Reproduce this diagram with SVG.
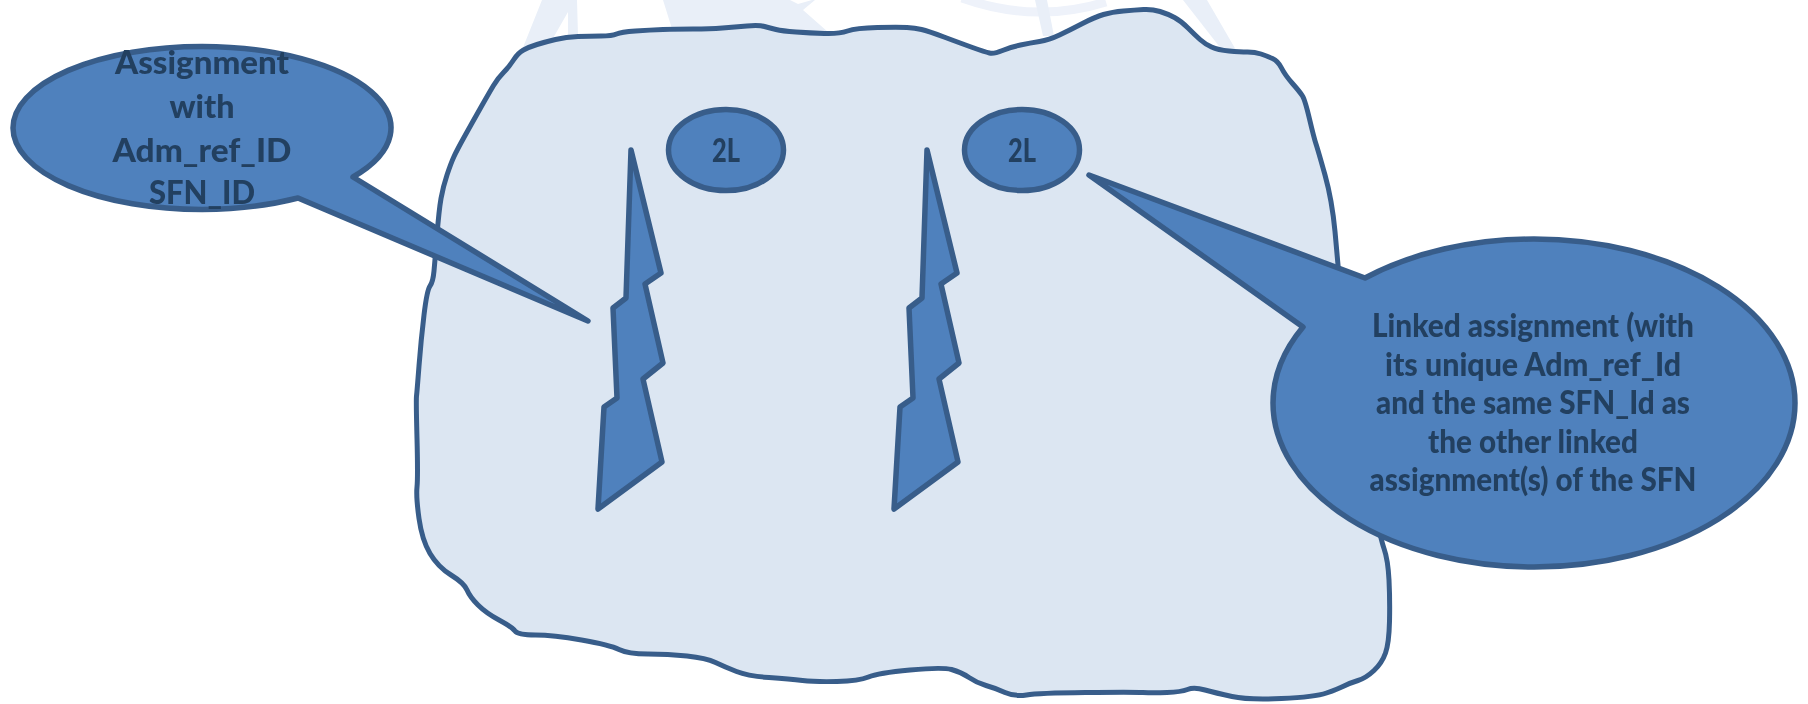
<svg xmlns="http://www.w3.org/2000/svg" width="1808" height="704" viewBox="0 0 1808 704">
<style>
.wm{fill:#e9eff8;stroke:none}
.wl{fill:none;stroke:#eef2fa;stroke-width:9}
.shape{fill:#4f81bd;stroke:#385d8a;stroke-width:5.5;stroke-linejoin:round;stroke-linecap:round}
.blob{fill:#dce6f2;stroke:#385d8a;stroke-width:5;stroke-linejoin:round}
text{font-family:"Lato","Open Sans","Liberation Sans",sans-serif;font-weight:900;font-size:32px;fill:#244061;text-anchor:middle}
</style>
<defs><filter id="soft" x="-2%" y="-2%" width="104%" height="104%"><feGaussianBlur stdDeviation="0.5"/></filter></defs>
<rect width="1808" height="704" fill="#ffffff"/>
<g filter="url(#soft)">
<g id="watermark">
<path class="wm" d="M542,0L577,0L578,36L568,37L568,12L552,40L522,50Z"/>
<path class="wm" d="M663,0L790,0L798,4L812,0L815,0L803,10L828,32L673,32Z"/>
<path class="wl" d="M962,-2Q1035,24 1106,2"/>
<path class="wm" d="M1035,0L1047,0L1054,36L1043,36Z"/>
<path class="wm" d="M1183,0L1207,0L1236,50L1222,50Z"/>
</g>
<g id="cloud">
<path class="blob" d="M513.5,60Q518,53 523.5,50Q529,47 537,44.5Q545,42 555.5,39.5Q566,37 578,36.5Q590,36 601,36Q612,36 616.5,34Q621,32 635.5,31Q650,30 663,29.5Q676,29 693,29Q710,29 722.5,28Q735,27 747,26Q759,25 764.5,26.5Q770,28 776,29.5Q782,31 796,32Q810,33 824.5,33.5Q839,34 847.5,31Q856,28 877.5,27.5Q899,27 907,27.5Q915,28 921.5,29.5Q928,31 944,37Q960,43 972.5,47.5Q985,52 989.5,53Q994,54 1002.5,50.5Q1011,47 1020.5,45Q1030,43 1039.5,41.5Q1049,40 1059.5,35Q1070,30 1082.5,23.5Q1095,17 1103.5,14.5Q1112,12 1123.5,11Q1135,10 1143.5,9.5Q1152,9 1160,11.5Q1168,14 1174.5,17.5Q1181,21 1188,28Q1195,35 1200,39.5Q1205,44 1211.5,47Q1218,50 1229,51Q1240,52 1247.5,52Q1255,52 1261,54Q1267,56 1272.5,58.5Q1278,61 1281.5,68Q1285,75 1292.5,83.5Q1300,92 1302.5,96Q1305,100 1309.5,119Q1314,138 1316,144Q1318,150 1325,175Q1332,200 1335,231.5Q1338,263 1344,331.5Q1350,400 1365,468.5Q1380,537 1384,548.5Q1388,560 1389,580Q1390,600 1389.5,621.5Q1389,643 1385.5,653Q1382,663 1374,670.5Q1366,678 1358,680.5Q1350,683 1344,686Q1338,689 1326.5,693Q1315,697 1281.5,698.5Q1248,700 1232,696.5Q1216,693 1205,690Q1194,687 1187.5,689.5Q1181,692 1167,692.5Q1153,693 1143,692.5Q1133,692 1085.5,692.5Q1038,693 1026.5,695Q1015,697 1005,692.5Q995,688 986,685.5Q977,683 969,677.5Q961,672 951.5,669.5Q942,667 910,670Q878,673 868.5,677Q859,681 837,681.5Q815,682 802.5,680.5Q790,679 769,677.5Q748,676 736.5,671.5Q725,667 715.5,662.5Q706,658 687,656Q668,654 648,654Q628,654 619,649.5Q610,645 581.5,640Q553,635 535.5,635Q518,635 515,631Q512,627 499,620Q486,613 478,605Q470,597 467,590Q464,583 451,575Q438,567 430,553.5Q422,540 419,518.5Q416,497 417,487Q418,477 417,438.5Q416,400 416.5,396Q417,392 419,366Q421,340 424,315Q427,290 430,286Q433,282 434,271Q435,260 437,235Q439,210 441,198.5Q443,187 447,175Q451,163 454,156.5Q457,150 464.5,136.5Q472,123 480.5,108Q489,93 493.5,85.5Q498,78 503.5,72.5Q509,67 513.5,60Z"/>
</g>
<g id="bolt-1">
<path class="shape" d="M631,150L661,273L645,284L663,363L643,379L662,462L598,509L604,407L617,398L613,308L626,298Z"/>
</g>
<g id="bolt-2">
<path class="shape" d="M927,150L957,273L941,284L959,363L939,379L958,462L894,509L900,407L913,398L909,308L922,298Z"/>
</g>
<g id="badge-1">
<ellipse class="shape" cx="726" cy="150" rx="57.5" ry="40.5"/>
<text x="726" y="162" textLength="28" lengthAdjust="spacingAndGlyphs">2L</text>
</g>
<g id="badge-2">
<ellipse class="shape" cx="1022" cy="150" rx="57.5" ry="40.5"/>
<text x="1022" y="162" textLength="28" lengthAdjust="spacingAndGlyphs">2L</text>
</g>
<g id="callout-1">
<path class="shape" d="M298,198L588,321L353,177A189,81.5 0 0 0 202,46.5A189,81.5 0 0 0 13,128A189,81.5 0 0 0 202,209.5A189,81.5 0 0 0 298,198Z"/>
<text x="202" y="74" textLength="174" lengthAdjust="spacingAndGlyphs">Assignment</text>
<text x="202" y="118" textLength="65" lengthAdjust="spacingAndGlyphs">with</text>
<text x="202" y="162" textLength="179" lengthAdjust="spacingAndGlyphs">Adm_ref_ID</text>
<text x="202" y="204" textLength="106" lengthAdjust="spacingAndGlyphs">SFN_ID</text>
</g>
<g id="callout-2">
<path class="shape" d="M1303,327L1089,175L1365,278A261,164 0 0 1 1534,239A261,164 0 0 1 1795,403A261,164 0 0 1 1534,567A261,164 0 0 1 1273,403A261,164 0 0 1 1303,327Z"/>
<text x="1533" y="337" textLength="322" lengthAdjust="spacingAndGlyphs">Linked assignment (with</text>
<text x="1533" y="376" textLength="296" lengthAdjust="spacingAndGlyphs">its unique Adm_ref_Id</text>
<text x="1533" y="414" textLength="314" lengthAdjust="spacingAndGlyphs">and the same SFN_Id as</text>
<text x="1533" y="453" textLength="210" lengthAdjust="spacingAndGlyphs">the other linked</text>
<text x="1533" y="491" textLength="327" lengthAdjust="spacingAndGlyphs">assignment(s) of the SFN</text>
</g>
<g id="connectors"/>
</g>
</svg>
